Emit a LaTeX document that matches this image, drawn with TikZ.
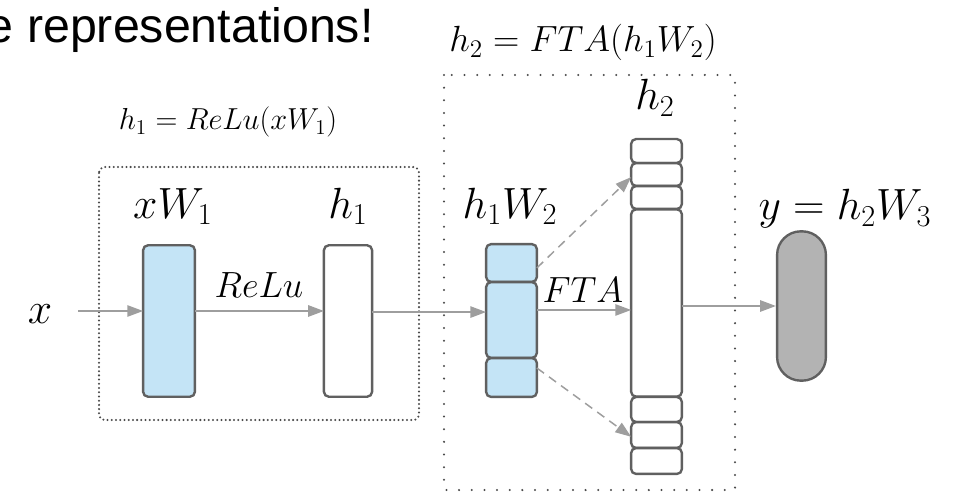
\documentclass[tikz,border=0pt]{standalone}
\usepackage{fontspec}
\newfontfamily\titlefont{Liberation Sans}
\usetikzlibrary{arrows.meta}
\definecolor{edgegray}{HTML}{606060}
\definecolor{arrgray}{HTML}{9E9E9E}
\definecolor{cellblue}{HTML}{C4E4F6}
\definecolor{pillgray}{HTML}{B3B3B3}
\definecolor{dotgray}{HTML}{4A4A4A}
\tikzset{
  cellbox/.style={draw=edgegray, line width=1.35pt, rounded corners=2.8pt, inner sep=0pt, outer sep=0pt, fill=white},
  bluecell/.style={cellbox, fill=cellblue},
  lbl/.style={anchor=base, inner sep=0pt, text=black},
  arr/.style={draw=arrgray, line width=0.85pt, -{Triangle[length=9pt,width=6.5pt]}},
  dasharr/.style={arr, dash pattern=on 5pt off 3.5pt},
  densedots/.style={draw=dotgray, line width=1.3pt, line cap=round, dash pattern=on 0pt off 2.4pt, rounded corners=3.4pt},
  sparsedots/.style={draw=dotgray, line width=1.3pt, line cap=round, dash pattern=on 0pt off 7.2pt}
}
\begin{document}
\begin{tikzpicture}[x=0.02cm, y=-0.02cm]
\path[use as bounding box] (0,0) rectangle (953,493);

% title fragment
\node[anchor=base east, inner sep=0pt, font=\titlefont\fontsize{27.5}{30}\selectfont] (title) at (374,43) {e representations!};

% dotted groups
\draw[densedots] (99,167) rectangle (419,420);
\draw[sparsedots] (444,75) rectangle (735,490);

% group labels
\node[lbl, font=\fontsize{17.2}{20}\selectfont] (g1lab) at (228,130) {$h_1 = ReLu(xW_1)$};
\node[lbl, font=\fontsize{22.6}{26}\selectfont] (g2lab) at (583,52) {$h_2 = FTA(h_1W_2)$};

% first layer
\node[bluecell, minimum width=29.5pt, minimum height=86.2pt] (xw1) at (169,321) {};
\node[cellbox, minimum width=27.4pt, minimum height=86.2pt] (h1) at (348,321) {};
\node[lbl, font=\fontsize{23.5}{27}\selectfont] (xw1lab) at (173,218) {$xW_1$};
\node[lbl, font=\fontsize{23.5}{27}\selectfont] (h1lab) at (348,218) {$h_1$};

% h1W2 cells
\node[bluecell, minimum width=28.9pt, minimum height=21.5pt] (a1) at (511.5,263) {};
\node[bluecell, minimum width=28.9pt, minimum height=43.1pt] (a2) at (511.5,320) {};
\node[bluecell, minimum width=28.9pt, minimum height=22.1pt] (a3) at (511.5,377.5) {};
\node[lbl, font=\fontsize{23.5}{27}\selectfont] (h1w2lab) at (510,218) {$h_1W_2$};

% h2 cells
\node[cellbox, minimum width=28.9pt, minimum height=13.6pt] (b1) at (656.5,151) {};
\node[cellbox, minimum width=28.9pt, minimum height=13.0pt] (b2) at (656.5,174.5) {};
\node[cellbox, minimum width=28.9pt, minimum height=13.0pt] (b3) at (656.5,197.5) {};
\node[cellbox, minimum width=28.9pt, minimum height=106.6pt] (b4) at (656.5,303) {};
\node[cellbox, minimum width=28.9pt, minimum height=14.2pt] (b5) at (656.5,409.5) {};
\node[cellbox, minimum width=28.9pt, minimum height=14.7pt] (b6) at (656.5,435) {};
\node[cellbox, minimum width=28.9pt, minimum height=14.7pt] (b7) at (656.5,461) {};
\node[lbl, font=\fontsize{23.5}{27}\selectfont] (h2lab) at (655,110) {$h_2$};

% output
\node[draw=edgegray, line width=1.35pt, fill=pillgray, rounded corners=13.5pt, inner sep=0pt, minimum width=27.8pt, minimum height=85pt] (yout) at (801.5,306) {};
\node[lbl, font=\fontsize{23.5}{27}\selectfont] (ylab) at (845,220) {$y = h_2W_3$};

% input
\node[lbl, font=\fontsize{30}{34}\selectfont] (xlab) at (40,323) {$x$};
\coordinate (xin) at (78,311);

% connectors
\draw[arr] (xin) -- (xin -| xw1.west);
\draw[arr] ([yshift=5.7pt]xw1.east) -- ([yshift=5.7pt]xw1.east -| h1.west);
\node[lbl, font=\fontsize{21}{24}\selectfont] (relulab) at (259,297) {$ReLu$};
\draw[arr] ([yshift=5.1pt]h1.east) -- ([yshift=5.1pt]h1.east -| a2.west);
\draw[arr] ([yshift=5.7pt]a2.east) -- ([yshift=5.7pt]a2.east -| b4.west);
\node[lbl, font=\fontsize{22.5}{26}\selectfont] (ftalab) at (583,302) {$FTA$};
\draw[dasharr] ([yshift=-2.8pt]a1.east) -- ([yshift=-1.5pt]b2.west);
\draw[dasharr] ([yshift=5.4pt]a3.east) -- ([yshift=-1pt]b6.west);
\draw[arr] (yout.west -| b4.east) -- (yout.west);
\end{tikzpicture}
\end{document}
